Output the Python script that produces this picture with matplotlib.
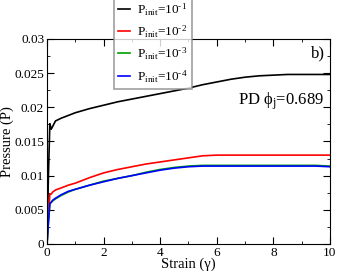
import matplotlib
matplotlib.use("Agg")
import matplotlib.pyplot as plt
from matplotlib.ticker import MultipleLocator

plt.rcParams['font.family'] = ['Liberation Serif', 'DejaVu Serif']
plt.rcParams['mathtext.fontset'] = 'custom'
plt.rcParams['mathtext.rm'] = 'Liberation Serif'
plt.rcParams['mathtext.it'] = 'Liberation Serif:italic'

strain = [0.0, 0.05, 0.1, 0.15, 0.2, 0.3, 0.5, 0.75, 1.0, 1.5, 2.0, 2.5, 3.0, 3.5, 4.0,
          4.5, 5.0, 5.5, 6.0, 6.5, 7.0, 7.5, 8.0, 8.5, 9.0, 9.5, 10.0]
p1 = [0.0, 0.010, 0.0176, 0.0168, 0.0172, 0.0180, 0.0184, 0.0188, 0.0192, 0.0198, 0.0203,
      0.0208, 0.0212, 0.0216, 0.0220, 0.0224, 0.0228, 0.0233, 0.0237, 0.0241, 0.0244,
      0.0246, 0.0247, 0.0248, 0.0248, 0.0248, 0.0248]
p2 = [0.0, 0.0040, 0.0073, 0.0073, 0.0076, 0.0079, 0.0082, 0.0086, 0.0089, 0.0097, 0.0104,
      0.0109, 0.0113, 0.0117, 0.0120, 0.0123, 0.0126, 0.0129, 0.0130, 0.0130, 0.0130,
      0.0130, 0.0130, 0.0130, 0.0130, 0.0130, 0.0130]
p3 = [0.0, 0.0032, 0.0059, 0.0061, 0.0063, 0.0066, 0.0071, 0.0076, 0.0080, 0.0086, 0.0092,
      0.0096, 0.0100, 0.0105, 0.0109, 0.0112, 0.0114, 0.0115, 0.0115, 0.0115, 0.0115,
      0.0115, 0.0115, 0.0115, 0.0115, 0.0115, 0.0114]
p4 = [0.0, 0.0032, 0.0059, 0.0061, 0.0064, 0.0067, 0.0072, 0.0077, 0.0080, 0.0086, 0.0091,
      0.0096, 0.0100, 0.0104, 0.0108, 0.0111, 0.0113, 0.0114, 0.0114, 0.0114, 0.0114,
      0.0114, 0.0114, 0.0114, 0.0114, 0.0114, 0.0113]

series = [p1, p2, p3, p4]
colors = ['black', '#ff0000', '#00a000', '#0000ff']
labels = [r'P$_{\rm init}$=10$^{\text{-}1}$', r'P$_{\rm init}$=10$^{\text{-}2}$',
          r'P$_{\rm init}$=10$^{\text{-}3}$', r'P$_{\rm init}$=10$^{\text{-}4}$']

fig = plt.figure(figsize=(3.37, 2.74), dpi=100)
ax = fig.add_axes([0.1395, 0.1095, 0.8395, 0.7485])

handles = []
for y, c, l in zip(series, colors, labels):
    h, = ax.plot(strain, y, color=c, lw=1.2, label=l)
    handles.append(h)

ax.set_xlim(0, 10)
ax.set_ylim(0, 0.03)
ax.xaxis.set_major_locator(MultipleLocator(2))
ax.xaxis.set_minor_locator(MultipleLocator(1))
ax.yaxis.set_minor_locator(MultipleLocator(0.0025))
ax.set_yticks([0, 0.005, 0.01, 0.015, 0.02, 0.025, 0.03])
ax.set_yticklabels(['0', '0.005', '0.01', '0.015', '0.02', '0.025', '0.03'])
ax.tick_params(which='both', direction='in', top=True, right=True, labelsize=9.5, pad=2)
ax.tick_params(which='major', length=5)
ax.tick_params(which='minor', length=2.5)

ax.set_xlabel('Strain (γ)', fontsize=10.5)
ax.set_ylabel('Pressure (P)', fontsize=10.5)
ax.xaxis.set_label_coords(0.5, -0.065)
ax.yaxis.set_label_coords(-0.118, 0.5)

ax.text(0.982, 0.927, 'b)', transform=ax.transAxes, fontsize=12, ha='right', va='center')
ax.text(0.979, 0.678, r'PD ϕ$_{\rm j}$=0.689', transform=ax.transAxes, fontsize=12,
        ha='right', va='baseline')

leg = fig.legend(handles=handles, loc='upper left', bbox_to_anchor=(114/337, 1.01),
                 fontsize=9.5, frameon=True, fancybox=False, edgecolor='#888888',
                 handlelength=0.9, handletextpad=0.55, borderpad=0.3, labelspacing=0.45,
                 borderaxespad=0)
leg.get_frame().set_linewidth(1.2)

fig.savefig('out.png', dpi=100)
